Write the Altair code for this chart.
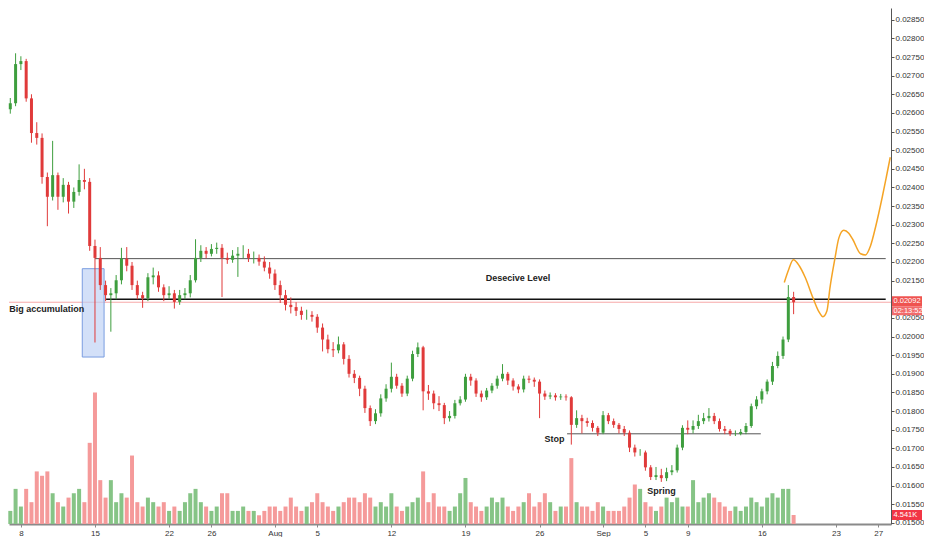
import json
import altair as alt
import pandas as pd

# ---------------- data ----------------
# 12h candles, x = days from 8 Jul
OPEN0 = 0.02610
CLOSE = [0.02626, 0.02731, 0.02739, 0.02639, 0.02546, 0.02533, 0.02428, 0.02375, 0.02433, 0.02375,
         0.02407, 0.02362, 0.02388, 0.02420, 0.02415, 0.02243, 0.02211, 0.02138, 0.02111, 0.02116,
         0.02151, 0.02209, 0.02190, 0.02138, 0.02111, 0.02103, 0.02159, 0.02164, 0.02132, 0.02111,
         0.02116, 0.02093, 0.02111, 0.02116, 0.02151, 0.02211, 0.02230, 0.02222, 0.02235, 0.02238,
         0.02211, 0.02206, 0.02217, 0.02222, 0.02222, 0.02211, 0.02211, 0.02201, 0.02185, 0.02169,
         0.02138, 0.02111, 0.02085, 0.02079, 0.02069, 0.02058, 0.02058, 0.02053, 0.02024, 0.01992,
         0.01966, 0.01963, 0.01979, 0.01940, 0.01900, 0.01889, 0.01860, 0.01808, 0.01773, 0.01794,
         0.01834, 0.01860, 0.01892, 0.01868, 0.01847, 0.01887, 0.01953, 0.01971, 0.01853, 0.01847,
         0.01821, 0.01816, 0.01781, 0.01787, 0.01821, 0.01831, 0.01892, 0.01882, 0.01847, 0.01837,
         0.01855, 0.01868, 0.01887, 0.01900, 0.01882, 0.01866, 0.01858, 0.01887, 0.01884, 0.01879,
         0.01847, 0.01839, 0.01842, 0.01837, 0.01839, 0.01837, 0.01763, 0.01781, 0.01773, 0.01768,
         0.01755, 0.01742, 0.01789, 0.01773, 0.01763, 0.01752, 0.01742, 0.01702, 0.01689, 0.01689,
         0.01649, 0.01623, 0.01628, 0.01620, 0.01636, 0.01641, 0.01702, 0.01755, 0.01750, 0.01760,
         0.01773, 0.01781, 0.01787, 0.01773, 0.01752, 0.01747, 0.01739, 0.01739, 0.01744, 0.01760,
         0.01813, 0.01831, 0.01853, 0.01879, 0.01921, 0.01948, 0.01992, 0.02106, 0.02092]
HIGH = [0.02640, 0.02760, 0.02752, 0.02745, 0.02650, 0.02575, 0.02545, 0.02440, 0.02525, 0.02440,
        0.02425, 0.02415, 0.02400, 0.02462, 0.02450, 0.02425, 0.02260, 0.02240, 0.02150, 0.02130,
        0.02165, 0.02238, 0.02240, 0.02200, 0.02150, 0.02120, 0.02170, 0.02185, 0.02175, 0.02140,
        0.02135, 0.02125, 0.02125, 0.02130, 0.02165, 0.02261, 0.02245, 0.02240, 0.02248, 0.02252,
        0.02248, 0.02225, 0.02232, 0.02240, 0.02245, 0.02235, 0.02228, 0.02220, 0.02215, 0.02200,
        0.02180, 0.02150, 0.02125, 0.02105, 0.02092, 0.02080, 0.02072, 0.02068, 0.02060, 0.02035,
        0.02005, 0.01985, 0.02000, 0.01985, 0.01950, 0.01910, 0.01895, 0.01868, 0.01815, 0.01805,
        0.01845, 0.01872, 0.01930, 0.01900, 0.01875, 0.01895, 0.01962, 0.01984, 0.01975, 0.01870,
        0.01855, 0.01840, 0.01822, 0.01800, 0.01830, 0.01840, 0.01900, 0.01900, 0.01888, 0.01855,
        0.01862, 0.01875, 0.01895, 0.01926, 0.01905, 0.01888, 0.01872, 0.01895, 0.01895, 0.01890,
        0.01885, 0.01855, 0.01850, 0.01848, 0.01846, 0.01845, 0.01840, 0.01802, 0.01790, 0.01782,
        0.01775, 0.01760, 0.01800, 0.01795, 0.01780, 0.01768, 0.01760, 0.01748, 0.01710, 0.01698,
        0.01694, 0.01655, 0.01650, 0.01645, 0.01648, 0.01655, 0.01710, 0.01762, 0.01775, 0.01775,
        0.01790, 0.01795, 0.01808, 0.01795, 0.01780, 0.01760, 0.01752, 0.01748, 0.01752, 0.01768,
        0.01820, 0.01840, 0.01860, 0.01885, 0.01932, 0.01960, 0.02000, 0.02138, 0.02120]
LOW = [0.02598, 0.02618, 0.02715, 0.02630, 0.02520, 0.02515, 0.02410, 0.02296, 0.02365, 0.02340,
       0.02360, 0.02330, 0.02345, 0.02378, 0.02395, 0.02230, 0.01984, 0.02125, 0.02095, 0.02013,
       0.02100, 0.02140, 0.02175, 0.02125, 0.02100, 0.02077, 0.02095, 0.02140, 0.02120, 0.02095,
       0.02100, 0.02075, 0.02085, 0.02100, 0.02105, 0.02145, 0.02200, 0.02210, 0.02215, 0.02222,
       0.02106, 0.02195, 0.02198, 0.02160, 0.02210, 0.02200, 0.02196, 0.02190, 0.02175, 0.02155,
       0.02125, 0.02090, 0.02070, 0.02062, 0.02055, 0.02045, 0.02045, 0.02040, 0.02010, 0.01960,
       0.01955, 0.01945, 0.01955, 0.01925, 0.01890, 0.01875, 0.01840, 0.01795, 0.01760, 0.01765,
       0.01785, 0.01825, 0.01850, 0.01860, 0.01838, 0.01840, 0.01880, 0.01945, 0.01802, 0.01830,
       0.01805, 0.01800, 0.01765, 0.01772, 0.01780, 0.01815, 0.01825, 0.01868, 0.01838, 0.01825,
       0.01830, 0.01848, 0.01860, 0.01880, 0.01870, 0.01855, 0.01848, 0.01850, 0.01875, 0.01865,
       0.01781, 0.01830, 0.01832, 0.01828, 0.01830, 0.01828, 0.01710, 0.01755, 0.01740, 0.01758,
       0.01745, 0.01733, 0.01738, 0.01765, 0.01755, 0.01740, 0.01733, 0.01690, 0.01678, 0.01680,
       0.01640, 0.01615, 0.01615, 0.01610, 0.01612, 0.01628, 0.01635, 0.01695, 0.01738, 0.01740,
       0.01752, 0.01765, 0.01772, 0.01765, 0.01745, 0.01738, 0.01733, 0.01733, 0.01735, 0.01738,
       0.01755, 0.01805, 0.01820, 0.01845, 0.01870, 0.01915, 0.01940, 0.01985, 0.02060]
VOLUME_K = [6.6, 17.7, 8.8, 17.7, 11, 26.5, 24.3, 26.5, 15.5, 11,
            8.8, 13.3, 15.5, 17.7, 11, 40.9, 66.3, 22.1, 13.3, 22.1,
            11, 15.5, 13.3, 34.5, 11, 8.8, 13.3, 11, 8.8, 11,
            6.6, 8.8, 6.6, 11, 15.5, 17.7, 11, 8.8, 6.6, 8.8,
            15.5, 15.5, 6.6, 6.6, 8.8, 6.6, 6.6, 4.4, 6.6, 8.8,
            8.8, 6.6, 8.8, 13.3, 8.8, 6.6, 8.8, 11, 15.5, 11,
            8.8, 6.6, 8.8, 11, 13.3, 13.3, 11, 15.5, 13.3, 8.8,
            11, 8.8, 15.5, 8.8, 6.6, 8.8, 11, 13.3, 26.5, 11,
            15.5, 8.8, 8.8, 6.6, 8.8, 15.5, 23.2, 11, 8.8, 6.6,
            8.8, 13.3, 11, 13.3, 8.8, 6.6, 8.8, 11, 15.5, 8.8,
            11, 15.5, 11, 6.6, 8.8, 8.8, 33.2, 11, 8.8, 8.8,
            6.6, 11, 8.8, 6.6, 6.6, 6.6, 8.8, 13.3, 19.9, 17.7,
            11, 8.8, 6.6, 8.8, 13.3, 11, 13.3, 8.8, 8.8, 22.1,
            11, 13.3, 15.5, 13.3, 11, 8.8, 6.6, 8.8, 6.6, 8.8,
            13.3, 11, 8.8, 13.3, 15.5, 13.3, 17.7, 17.7, 4.541]

# projected path (orange)
PROJ_D = [72.12, 72.50, 72.97, 73.53, 74.09, 74.84, 75.40, 75.77, 76.15, 76.43, 76.90,
          77.27, 77.74, 78.21, 78.58, 79.33, 79.79, 80.26, 80.76, 81.38, 81.76, 82.13]
PROJ_P = [0.02145, 0.02177, 0.02206, 0.02190, 0.02159, 0.02103, 0.02066, 0.02053, 0.02069, 0.02130, 0.02209,
          0.02264, 0.02285, 0.02277, 0.02261, 0.02222, 0.02219, 0.02243, 0.02296, 0.02375, 0.02428, 0.02481]

# drawn levels: start day, end day, price, colour, width
LEVEL_D1 = [7.0, 8.05, 51.6]
LEVEL_D2 = [81.7, 81.7, 69.9]
LEVEL_P = [0.02209, 0.02100, 0.01739]
LEVEL_COLOR = ["#555555", "#111111", "#555555"]
LEVEL_W = [1.0, 1.6, 1.0]

# accumulation box
BOX_D1, BOX_D2, BOX_P1, BOX_P2 = [5.8], [7.86], [0.01945], [0.02182]

# annotations
NOTE_TEXT = ["Big accumulation", "Desecive Level", "Stop", "Spring"]
NOTE_D = [2.45, 46.96, 50.42, 60.52]
NOTE_P = [0.02074, 0.02156, 0.01726, 0.01586]

LAST_PRICE = 0.02092
LAST_PRICE_TEXT = "0.02092"
COUNTDOWN_TEXT = "02:13:52"
LAST_VOL = 4.541
LAST_VOL_TEXT = "4.541K"

X_TICKS = [0, 7, 14, 18, 24, 28, 35, 42, 49, 55, 59, 63, 70, 77, 81]
X_LABELS = ["8", "15", "22", "26", "Aug", "5", "12", "19", "26", "Sep", "5", "9", "16", "23", "27"]
PRICE_TICKS = [0.0150, 0.0155, 0.0160, 0.0165, 0.0170, 0.0175, 0.0180, 0.0185, 0.0190, 0.0195,
               0.0200, 0.0205, 0.0215, 0.0220, 0.0225, 0.0230, 0.0235, 0.0240, 0.0245,
               0.0250, 0.0255, 0.0260, 0.0265, 0.0270, 0.0275, 0.0280, 0.0285]

# ---------------- layout ----------------
W, H = 882, 516
X_DOM = [-1.1225, 82.2]
Y_DOM = [0.01497, 0.028815]
V_DOM = [0, 260]
UP, DOWN = "#3e9e3e", "#e03a3a"
VUP, VDOWN = "#86c486", "#f59a9a"
FONT = "Liberation Sans"

N = len(CLOSE)
DAY = [-1.0 + 0.5 * i for i in range(N)]
OPEN = [OPEN0] + CLOSE[:-1]
df = pd.DataFrame(dict(d=DAY, o=OPEN, c=CLOSE, h=HIGH, l=LOW, v=VOLUME_K))

label_expr = "%s[indexof(%s, datum.value)]" % (json.dumps(X_LABELS), json.dumps(X_TICKS))
XS = alt.Scale(domain=X_DOM, nice=False, zero=False, padding=0)
YS = alt.Scale(domain=Y_DOM, nice=False, zero=False, padding=0)
VS = alt.Scale(domain=V_DOM, nice=False, padding=0)
X_AX = alt.Axis(values=X_TICKS, labelExpr=label_expr, title=None, grid=False, orient="bottom",
                domainColor="#8a8a8a", domainWidth=2, tickColor="#8a8a8a", tickSize=3,
                labelFontSize=8, labelColor="#333333", labelFont=FONT, labelPadding=2,
                labelFlush=False, labelOverlap=False)
Y_AX = alt.Axis(values=PRICE_TICKS, format=".5f", title=None, grid=False, orient="right",
                domainColor="#555555", tickColor="#555555", tickSize=3, labelFontSize=8,
                labelColor="#333333", labelFont=FONT, labelPadding=1, labelFlush=False,
                labelOverlap=False)


def X(field):
    return alt.X(field, type="quantitative", scale=XS, axis=X_AX)


def Y(field):
    return alt.Y(field, type="quantitative", scale=YS, axis=Y_AX)


def V(field):
    return alt.Y(field, type="quantitative", scale=VS, axis=None)


base = alt.Chart(df)
col = alt.condition("datum.c >= datum.o", alt.value(UP), alt.value(DOWN))
vcol = alt.condition("datum.c >= datum.o", alt.value(VUP), alt.value(VDOWN))

# tags to the right of the plot (over the price axis)
TAG_X1, TAG_X2, TAG_TX = alt.value(W + 1), alt.value(W + 31), alt.value(W + 2.5)
tag_df = pd.DataFrame(dict(p=[LAST_PRICE], t=[LAST_PRICE_TEXT], c=[COUNTDOWN_TEXT],
                           v=[LAST_VOL], vt=[LAST_VOL_TEXT]))
tag_chart = alt.Chart(tag_df)
TAG_FS = 7.5

vol = base.mark_bar(size=4).encode(x=X("d"), y=V("v"), color=vcol)
vtag = tag_chart.mark_rect(color="#f23645", yOffset=-5, y2Offset=5).encode(
    x=TAG_X1, x2=TAG_X2, y=V("v"), y2="v")
vtag_t = tag_chart.mark_text(align="left", baseline="middle", color="white",
                             fontSize=TAG_FS, font=FONT).encode(x=TAG_TX, y=V("v"), text="vt:N")
vol_layer = alt.layer(vol, vtag, vtag_t)

# price layers
lvl_df = pd.DataFrame(dict(d1=LEVEL_D1, d2=LEVEL_D2, p=LEVEL_P, c=LEVEL_COLOR, w=LEVEL_W))
price_line = alt.Chart(pd.DataFrame(dict(d1=[X_DOM[0]], d2=[X_DOM[1]], p=[LAST_PRICE]))).mark_rule(
    color="#f7a9a9", strokeWidth=1).encode(x=X("d1"), x2="d2", y=Y("p"))
levels = alt.Chart(lvl_df).mark_rule().encode(
    x=X("d1"), x2="d2", y=Y("p"),
    color=alt.Color("c:N", scale=None), strokeWidth=alt.StrokeWidth("w:Q", scale=None))
box = alt.Chart(pd.DataFrame(dict(d1=BOX_D1, d2=BOX_D2, p1=BOX_P1, p2=BOX_P2))).mark_rect(
    fill="#bcd0f4", fillOpacity=0.65, stroke="#7b9de0", strokeWidth=1).encode(
    x=X("d1"), x2="d2", y=Y("p1"), y2="p2")
wicks = base.mark_rule(strokeWidth=1).encode(x=X("d"), y=Y("l"), y2="h", color=col)
bodies = base.mark_bar(size=3).encode(x=X("d"), y=Y("o"), y2="c", color=col)
proj = alt.Chart(pd.DataFrame(dict(d=PROJ_D, p=PROJ_P))).mark_line(
    color="#f5a425", strokeWidth=1.5, interpolate="monotone").encode(x=X("d"), y=Y("p"))
notes = alt.Chart(pd.DataFrame(dict(d=NOTE_D, p=NOTE_P, t=NOTE_TEXT))).mark_text(
    font=FONT, fontSize=9, fontWeight="bold", color="#222222", baseline="middle").encode(
    x=X("d"), y=Y("p"), text="t:N")
ptag = tag_chart.mark_rect(color="#ef5350", yOffset=-6, y2Offset=4).encode(
    x=TAG_X1, x2=TAG_X2, y=Y("p"), y2="p")
ctag = tag_chart.mark_rect(color="#f26b6b", yOffset=4, y2Offset=13).encode(
    x=TAG_X1, x2=TAG_X2, y=Y("p"), y2="p")
ptag_t = tag_chart.mark_text(align="left", baseline="middle", color="white",
                             fontSize=TAG_FS, font=FONT, dy=-1).encode(x=TAG_TX, y=Y("p"), text="t:N")
ctag_t = tag_chart.mark_text(align="left", baseline="middle", color="white",
                             fontSize=TAG_FS, font=FONT, dy=8.5).encode(x=TAG_TX, y=Y("p"), text="c:N")

price_layer = alt.layer(price_line, box, levels, wicks, bodies, proj, notes,
                        ptag, ctag, ptag_t, ctag_t)

chart = alt.layer(vol_layer, price_layer).resolve_scale(y="independent").properties(
    width=W, height=H,
    padding={"left": 0, "top": 0, "right": 0, "bottom": 0},
    background="white"
).configure_view(stroke=None)

chart.save("out.html", embed_options={"renderer": "svg", "actions": False})
